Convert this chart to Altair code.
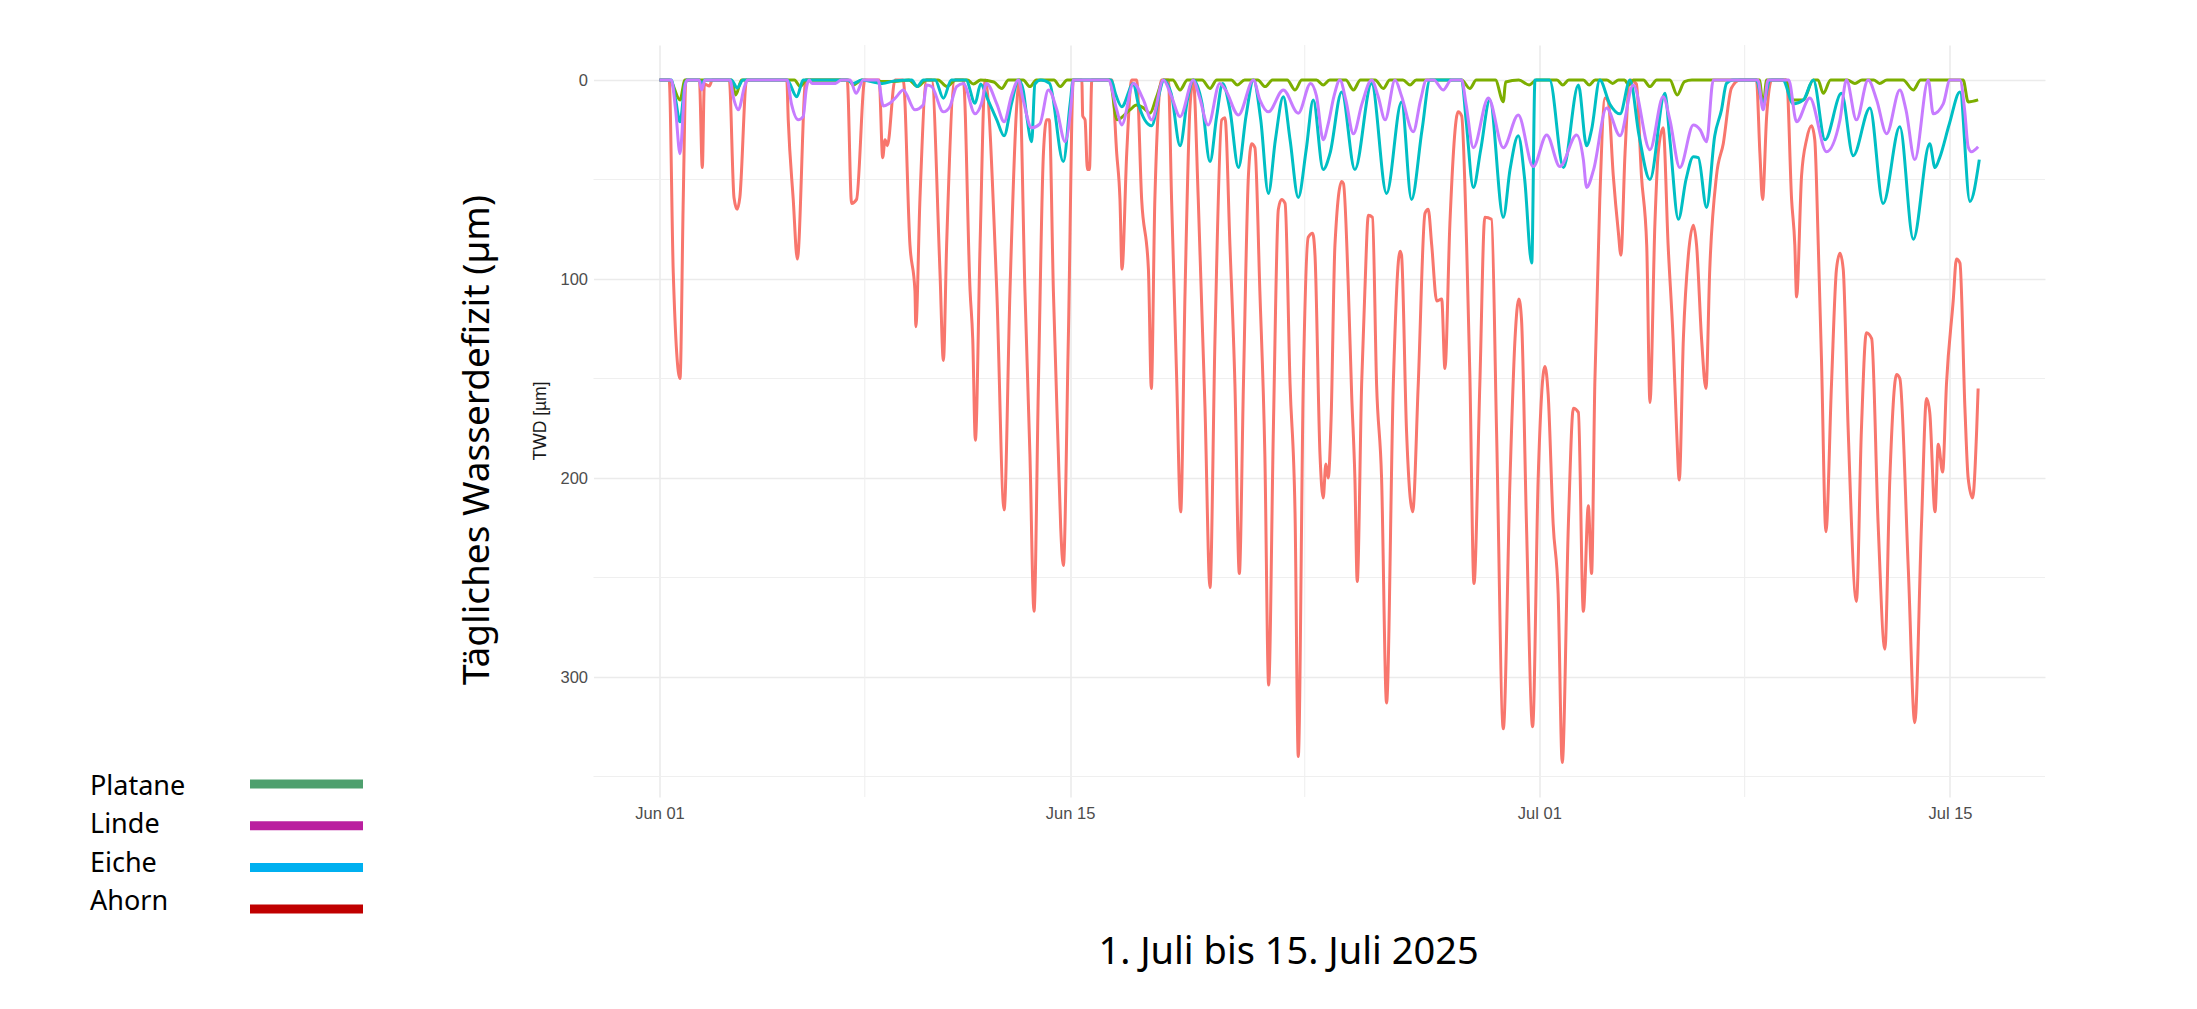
import altair as alt
import pandas as pd

# ---------------- data (days since 1 June 2025, TWD in µm) ----------------
ahorn = [(0,0),(0.33,0),(0.47,97),(0.70,150),(0.81,60),(0.90,0),
 (1.36,0),(1.46,44),(1.53,2),(1.70,3),(1.80,0),
 (2.38,0),(2.54,59),(2.65,65),(2.74,59),(2.97,0),
 (4.34,0),(4.39,20),(4.56,60),(4.70,90),(4.99,0),
 (6.40,0),(6.55,62),(6.72,60),(7.00,0),
 (7.49,0),(7.61,39),(7.69,30),(7.77,33),(8.03,0),
 (8.31,0),(8.54,83),(8.71,106),(8.74,124),(8.88,60),(9.11,0),
 (9.28,0),(9.56,95),(9.68,141),(9.79,83),(10.07,0),
 (10.36,0),(10.59,106),(10.68,130),(10.77,181),(10.93,83),(11.10,0),
 (11.50,106),(11.75,216),(11.95,106),(12.18,13),(12.27,0),
 (12.46,106),(12.63,188),(12.77,267),(12.92,153),(13.09,37),(13.20,20),(13.29,20),
 (13.43,106),(13.60,188),(13.68,225),(13.77,244),(13.94,130),(14.11,0),
 (14.40,0),(14.43,18),(14.51,20),(14.59,45),(14.66,45),(14.74,0),
 (15.42,0),(15.59,37),(15.70,60),(15.77,95),(15.93,37),(16.10,0),
 (16.27,0),(16.44,60),(16.67,95),(16.77,155),(16.89,60),(17.12,0),
 (17.35,0),(17.46,60),(17.63,148),(17.77,217),(17.92,106),(18.09,13),(18.20,0),
 (18.37,60),(18.60,165),(18.77,255),(18.94,130),(19.17,20),(19.28,19),
 (19.45,83),(19.62,153),(19.77,248),(19.91,153),(20.08,48),(20.19,32),(20.30,34),
 (20.47,106),(20.64,188),(20.77,304),(20.93,176),(21.10,65),(21.21,60),(21.33,62),
 (21.50,153),(21.67,218),(21.78,340),(21.95,153),(22.12,79),(22.27,77),(22.35,88),
 (22.52,188),(22.63,210),(22.72,193),(22.80,200),(22.90,170),(23.03,83),(23.26,51),(23.32,52),
 (23.49,106),(23.60,158),(23.71,200),(23.79,252),(23.94,153),(24.05,106),(24.17,68),(24.31,69),
 (24.45,153),(24.62,200),(24.79,313),(25.02,153),(25.25,86),(25.30,88),
 (25.47,176),(25.68,217),(25.87,153),(26.10,67),(26.21,65),(26.33,83),(26.50,111),(26.67,110),
 (26.78,145),(26.95,72),(27.23,16),(27.35,18),
 (27.52,83),(27.63,148),(27.77,253),(27.97,153),(28.14,69),(28.37,70),
 (28.54,176),(28.77,326),(29.00,200),(29.17,130),(29.30,110),(29.39,120),
 (29.56,223),(29.77,325),(29.96,200),(30.19,144),(30.30,158),
 (30.47,223),(30.64,258),(30.78,343),(30.99,223),(31.16,165),(31.33,167),
 (31.50,267),(31.67,214),(31.78,248),(31.89,153),(32.06,60),(32.24,9),(32.35,11),
 (32.52,48),(32.69,76),(32.78,88),(32.92,37),(33.09,0),(33.31,2),
 (33.48,48),(33.66,83),(33.77,162),(33.94,72),(34.05,37),(34.22,24),
 (34.39,83),(34.56,130),(34.68,176),(34.77,201),(34.91,130),(35.08,88),(35.25,73),(35.36,83),
 (35.53,130),(35.68,155),(35.81,95),(36.04,48),(36.27,32),(36.55,4),(36.84,0),
 (37.40,0),(37.52,37),(37.61,60),(37.75,18),(37.92,0),(38.43,0),
 (38.60,60),(38.71,83),(38.77,109),(38.94,48),(39.11,30),(39.28,23),(39.39,30),
 (39.51,83),(39.62,141),(39.77,227),(39.96,153),(40.13,95),(40.25,87),(40.36,95),
 (40.53,176),(40.81,262),(40.98,176),(41.15,127),(41.33,130),
 (41.55,223),(41.78,286),(41.95,200),(42.18,148),(42.29,150),
 (42.58,246),(42.80,323),(43.03,223),(43.20,160),(43.31,167),(43.49,217),(43.60,183),(43.75,197),
 (43.88,153),(44.11,111),(44.22,90),(44.34,92),
 (44.51,165),(44.62,200),(44.77,210),(44.91,176),(44.96,155)]

platane = [(0,0),(0.35,0),(0.70,10),(0.87,0),(2.45,0),(2.60,7.5),(2.80,0),(4.60,0),(4.80,3.3),(5.00,0),
 (6.45,0),(6.60,2.5),(6.90,0),(7.50,0.8),(8.00,0.8),(8.50,0),(8.80,3.3),(9.10,0),(9.50,0),(9.80,3.3),
 (10.10,0),(10.50,0),(10.70,2),(10.95,0),(11.40,1),(11.67,4.2),(11.90,0),(12.40,0),(12.63,3.3),(12.85,0),
 (13.45,0),(13.66,3.3),(13.90,0),(15.35,0),(15.60,20),(16.04,15),(16.27,12.6),(16.50,14),(16.72,16.7),
 (16.95,8.4),(17.18,0),(17.50,0),(17.75,5),(18.00,0),(18.50,0),(18.77,4.2),(19.00,0),(19.50,0),(19.70,2.5),
 (19.95,0),(20.40,0),(20.65,3.3),(20.90,0),(21.40,0),(21.67,5),(21.90,0),(22.40,0),(22.63,2.5),(22.85,0),
 (23.40,0),(23.66,5),(23.90,0),(24.40,0),(24.68,4.2),(24.90,0),(25.35,0),(25.59,2.5),(25.80,0),
 (27.35,0),(27.63,4.2),(27.85,0),(28.50,0),(28.77,10.9),(28.85,1),(29.30,0),(29.65,2.5),(29.90,0),
 (30.60,0),(30.80,2.5),(31.00,0),(31.50,0),(31.70,2.5),(31.90,0),(32.30,0),(32.50,1.7),(32.70,0),
 (32.90,0),(33.05,2.5),(33.20,0),(33.55,0),(33.77,3.3),(34.00,0),(34.45,0),(34.70,7.5),(34.95,0.8),
 (35.20,0),(37.50,0),(37.63,13),(37.75,0),(38.40,0),(38.66,10),(39.00,10),(39.34,0),(39.50,0),(39.68,6.7),
 (39.93,0),(40.50,0),(40.76,1.7),(41.00,0),(41.40,0),(41.60,1.7),(41.85,0),(42.40,0),(42.75,5),(43.00,0),
 (44.45,0),(44.62,11),(44.96,10)]

eiche = [(0,0),(0.4,0),(0.55,10),(0.70,21),(0.87,2),(0.95,0),(1.35,0),(1.44,1.7),(1.55,0),(2.45,0),(2.65,4),
 (2.85,0),(4.35,0),(4.68,8.4),(4.9,0),(6.4,0),(6.6,1.7),(6.9,0),(7.6,1.7),(8.0,0.5),(8.6,0),(8.78,3.3),(9.0,0),
 (9.4,0),(9.68,9.2),(9.95,0),(10.45,0),(10.76,11.7),(10.95,2),(11.2,10),(11.5,20),(11.75,28),(12.0,12),
 (12.24,0),(12.4,5),(12.52,18),(12.69,31),(12.8,2),(13.0,0),(13.3,1.7),(13.77,41),(14.0,12),(14.11,0),
 (15.4,0),(15.55,7),(15.76,13.4),(16.16,1.7),(16.32,11.7),(16.78,23),(17.07,5),(17.18,0),(17.45,7),(17.75,33),
 (18.0,10),(18.2,0),(18.5,12),(18.77,41),(19.0,18),(19.2,1.7),(19.45,15),(19.74,44),(20.0,18),(20.25,0),
 (20.5,20),(20.76,57),(21.0,30),(21.27,8.4),(21.5,30),(21.78,59),(22.05,35),(22.29,10),(22.63,45),(22.86,37),
 (23.26,6),(23.71,45),(24.28,1.7),(24.79,57),(25.3,11),(25.64,60),(26.0,25),(26.27,0),(27.35,0),(27.5,20),
 (27.75,54),(28.0,35),(28.31,10),(28.77,69),(29.0,45),(29.28,28),(29.5,50),(29.74,92),(29.85,0),(30.35,0),
 (30.82,44),(31.33,2.5),(31.61,33),(31.78,25),(32.06,0),(32.4,12),(32.75,17),(33.09,0),(33.4,28),(33.77,50),
 (34.28,6.7),(34.45,30),(34.74,70),(35.0,50),(35.25,38.5),(35.42,39),(35.7,64),(35.98,28),(36.21,15),
 (36.38,1.7),(36.6,0),(37.4,0),(37.63,12),(37.86,0),(38.3,0),(38.66,12),(39.0,10),(39.34,0),(39.74,30),
 (40.3,6.7),(40.7,38),(41.27,14),(41.72,62),(42.29,23.5),(42.75,80),(43.31,32),(43.49,44),(43.65,39),
 (43.98,22),(44.34,6),(44.68,61),(45.0,40)]

linde = [(0,0),(0.4,0),(0.55,15),(0.70,37),(0.87,3),(0.95,0),(1.35,0),(1.44,5),(1.55,0),(2.4,0),(2.54,10),
 (2.69,15),(2.9,3.3),(3.0,0),(4.35,0),(4.5,12),(4.73,20),(4.9,18.4),(5.0,5),(5.1,0),(5.2,1.7),(6.0,1.7),
 (6.2,0),(6.5,0),(6.7,6.7),(6.95,0),(7.45,0),(7.63,13),(7.85,11.7),(8.08,8.4),(8.31,5),(8.71,15),(8.99,12.6),
 (9.11,2.5),(9.28,3.3),(9.68,16),(9.9,13.4),(10.13,3.3),(10.36,1.7),(10.76,17),(10.98,11.7),(11.15,1.7),
 (11.5,12),(11.75,21),(12.0,8),(12.24,0),(12.4,10),(12.69,24),(12.97,22),(13.26,5),(13.55,15),(13.83,31),
 (14.05,10),(14.11,0),(15.3,0),(15.59,15),(15.76,22.6),(16.16,1.7),(16.5,10),(16.78,20),(17.18,0),(17.45,8),
 (17.75,18.4),(18.2,0),(18.4,8),(18.71,22.6),(19.1,1.7),(19.3,5),(19.74,17.6),(20.25,0),(20.47,10),(20.76,16),
 (21.27,5),(21.78,16.7),(22.2,1.7),(22.4,8),(22.63,30),(22.8,22),(23.0,8),(23.2,0),(23.4,10),(23.66,27),
 (23.95,12),(24.28,0),(24.5,8),(24.74,20),(25.08,0),(25.3,8),(25.7,26),(25.95,10),(26.15,0),(26.4,0),
 (26.72,5),(27.0,0),(27.35,0),(27.5,12),(27.75,34),(28.26,9),(28.77,34),(29.28,17.6),(29.79,43.5),
 (30.25,27.6),(30.7,43.5),(31.27,27.6),(31.5,40),(31.61,54),(31.85,45),(32.29,14),(32.75,28),(33.2,2.5),
 (33.77,35),(34.22,8.4),(34.45,20),(34.79,44),(35.25,22.6),(35.48,25),(35.7,31),(35.93,0),(37.45,0),
 (37.63,15),(37.8,0),(38.5,0),(38.77,21),(39.22,9),(39.79,36),(40.25,20),(40.47,0),(40.81,20),(41.21,0),
 (41.5,10),(41.84,27),(42.29,5),(42.5,15),(42.8,40),(43.26,0),(43.43,17),(43.77,12),(44.0,0),(44.34,0),
 (44.5,15),(44.62,33.5),(44.73,36),(44.96,33.5)]

series_names = ["Ahorn", "Platane", "Eiche", "Linde"]          # drawing order
series_colors = ["#F8766D", "#7CAE00", "#00BFC4", "#C77CFF"]

legend_names = ["Platane", "Linde", "Eiche", "Ahorn"]
legend_colors = ["#4EA06E", "#BA1F9F", "#00B0F0", "#C00000"]

x_tick_days = [0, 14, 30, 44]
x_tick_labels = ["Jun 01", "Jun 15", "Jul 01", "Jul 15"]
x_minor_days = [7, 22, 37]
y_ticks = [0, 100, 200, 300]
y_minor = [50, 150, 250, 350]

y_title_big = "Tägliches Wasserdefizit (µm)"
y_title_small = "TWD [µm]"
bottom_text = "1. Juli bis 15. Juli 2025"

# ---------------- chart ----------------
W, H = 1451.5, 752
label_expr = " : ".join(
    f"datum.value == {d} ? '{l}'" for d, l in zip(x_tick_days, x_tick_labels)) + " : ''"

x_scale = alt.Scale(domain=[-2.25, 47.24], nice=False, zero=False)
y_scale = alt.Scale(domain=[-17.6, 360.3], nice=False, zero=False, reverse=True)
x_axis = alt.Axis(values=x_tick_days, labelExpr=label_expr, title=None, grid=True, ticks=False,
                  domain=False, labelFontSize=16.5, labelColor="#4D4D4D", labelFont="Liberation Sans",
                  labelPadding=8, labelFlush=False)
y_axis = alt.Axis(values=y_ticks, title=None, grid=True, ticks=False, domain=False,
                  labelFontSize=16.5, labelColor="#4D4D4D", labelFont="Liberation Sans", labelPadding=6)

X = lambda: alt.X("day:Q", scale=x_scale, axis=x_axis)
Y = lambda: alt.Y("twd:Q", scale=y_scale, axis=y_axis)

layers = []
layers.append(alt.Chart(pd.DataFrame({"twd": y_minor})).mark_rule(color="#EFEFEF", strokeWidth=1.1)
              .encode(y=Y()))
layers.append(alt.Chart(pd.DataFrame({"day": x_minor_days})).mark_rule(color="#EFEFEF", strokeWidth=1.1)
              .encode(x=X()))

data_map = {"Ahorn": ahorn, "Platane": platane, "Eiche": eiche, "Linde": linde}
for name, col in zip(series_names, series_colors):
    pts = data_map[name]
    df = pd.DataFrame({"day": [p[0] for p in pts], "twd": [p[1] for p in pts], "art": name})
    layers.append(alt.Chart(df).mark_line(color=col, strokeWidth=3, strokeJoin="round",
                                          interpolate="monotone")
                  .encode(x=X(), y=Y(), detail="art:N"))

# text overlays
def text_layer(txt, x, y, size, font="Noto Sans", angle=None, align="center", color="black"):
    kw = dict(align=align, baseline="middle", fontSize=size, font=font, color=color)
    if angle is not None:
        kw["angle"] = angle
    return alt.Chart(pd.DataFrame({"label": [txt]})).mark_text(**kw).encode(
        x=alt.value(x), y=alt.value(y), text="label:N")

layers.append(text_layer(y_title_small, -53, 376, 17.5, font="Liberation Sans", angle=270, color="#1a1a1a"))
layers.append(text_layer(y_title_big, -116, 395, 37, angle=270))
layers.append(text_layer(bottom_text, 695, 908, 38))

for i, (name, col) in enumerate(zip(legend_names, legend_colors)):
    layers.append(text_layer(name, -503.5, 742 + i * 38.3, 27, align="left"))
    layers.append(alt.Chart(pd.DataFrame({"art": [name]})).mark_rule(color=col, strokeWidth=9, strokeCap="butt")
                  .encode(x=alt.value(-343.5), x2=alt.value(-230.5), y=alt.value(739 + i * 41.7)))

chart = alt.layer(*layers).properties(
    width=W, height=H,
    autosize=alt.AutoSizeParams(type="none"),
    padding={"left": 585.5, "top": 37, "right": 130, "bottom": 190},
).configure_axis(gridColor="#EBEBEB", gridWidth=1.6).configure_view(stroke=None)

chart.save("out.html", embed_options={"renderer": "svg", "actions": False})
